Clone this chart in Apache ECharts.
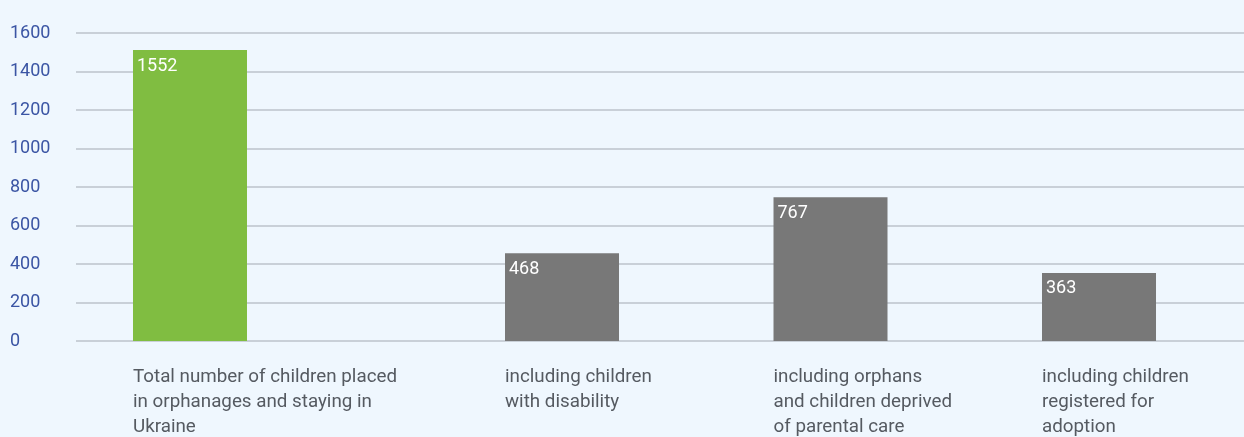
<!DOCTYPE html>
<html>
<head>
<meta charset="utf-8">
<script src="https://cdn.jsdelivr.net/npm/echarts@6/dist/echarts.min.js"></script>
<style>
html,body{margin:0;padding:0;background:#eff7fe;}
#chart{width:1244px;height:437px;}
</style>
</head>
<body>
<div id="chart"></div>
<script>
const categories = [
  'Total number of children placed\nin orphanages and staying in\nUkraine',
  'including children\nwith disability',
  'including orphans\nand children deprived\nof parental care',
  'including children\nregistered for\nadoption'
];
const totalValues = [1552, null, null, null];
const subsetValues = [null, 468, 767, 363];
const yTickMax = 1600;
const yTickStep = 200;

const chart = echarts.init(document.getElementById('chart'));
const font = 'Roboto';
chart.setOption({
  backgroundColor: '#eff7fe',
  animation: false,
  grid: [
    {left: 76, right: 0, top: 33, height: 308},
    {left: 107.5, width: 1074, top: 33, height: 308}
  ],
  xAxis: [
    {gridIndex: 0, type: 'category', data: [], show: false},
    {
      gridIndex: 1, type: 'category', data: categories,
      axisLine: {show: false}, axisTick: {show: false},
      axisLabel: {
        interval: 0, hideOverlap: false, margin: 23.5, align: 'center',
        formatter: function (v, i) {
          const s = i === 0 ? 'g' : 'k';
          return v.split('\n').map(l => '{' + s + '|' + l + '}').join('\n');
        },
        rich: {
          g: {width: 217.5, align: 'left', fontFamily: font, fontSize: 18.8, lineHeight: 25, color: '#555a61'},
          k: {width: 10.5, align: 'left', fontFamily: font, fontSize: 18.8, lineHeight: 25, color: '#555a61'}
        }
      }
    }
  ],
  yAxis: [
    {
      gridIndex: 0, type: 'value', min: 0, max: yTickMax, interval: yTickStep,
      axisLine: {show: false}, axisTick: {show: false},
      splitLine: {show: true, lineStyle: {color: '#bcc3cb', width: 1.5}},
      axisLabel: {
        align: 'left', margin: 66, fontFamily: font, fontSize: 18, color: '#3b55a4',
        verticalAlign: 'middle', padding: [0, 0, 10, 0],
        formatter: v => String(v)
      }
    },
    {gridIndex: 1, type: 'value', min: 0, max: 1643, show: false, splitLine: {show: false}}
  ],
  series: [
    {
      name: 'Total', type: 'bar', xAxisIndex: 1, yAxisIndex: 1,
      data: totalValues, barWidth: 114, barGap: '-9.2%',
      itemStyle: {color: '#80bd41'},
      label: {show: true, position: 'insideTopLeft', distance: 4, color: '#ffffff',
        fontFamily: font, fontSize: 18, lineHeight: 24}
    },
    {
      name: 'Including', type: 'bar', xAxisIndex: 1, yAxisIndex: 1,
      data: subsetValues, barWidth: 114, barGap: '-9.2%',
      itemStyle: {color: '#787878'},
      label: {show: true, position: 'insideTopLeft', distance: 4, color: '#ffffff',
        fontFamily: font, fontSize: 18, lineHeight: 24}
    }
  ]
});
</script>
</body>
</html>
